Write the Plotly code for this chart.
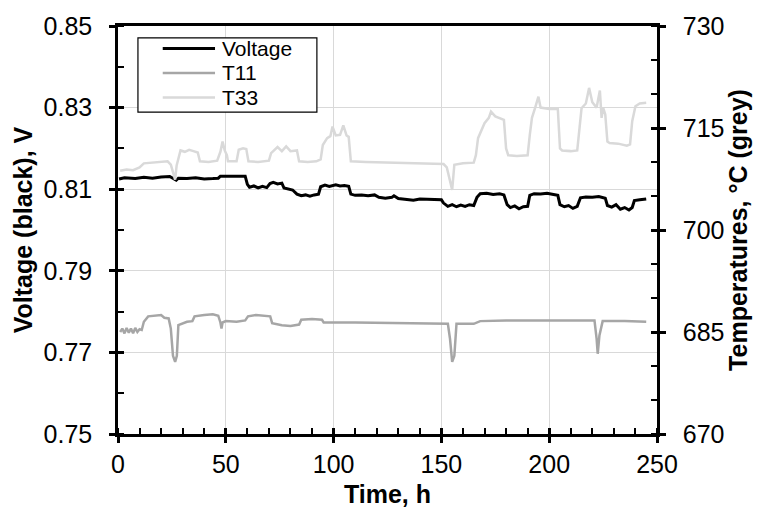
import plotly.graph_objects as go

# ---------------- data ----------------
volt_t = [0.5, 3, 8, 12, 16, 20, 24, 26, 27, 28, 32, 36, 40, 44, 46.5, 47.5, 52, 56, 59,
          60, 61, 63, 65, 67, 69, 70.5, 72, 74, 76, 77, 79, 81, 83, 85, 87, 89, 91, 93,
          94, 96, 98, 101, 103, 105, 107, 108, 110, 113, 116, 119, 121, 124, 127, 128,
          130, 134, 137, 140, 145, 150, 151, 153, 155, 157, 159, 161, 163, 165, 166.5,
          168, 171, 174, 177, 179, 180.5, 182, 184, 186, 188, 190, 191, 193, 196, 199,
          202, 204, 205, 207, 209, 211, 213, 214.5, 217, 220, 223, 226, 227, 229, 231,
          233, 235, 237, 238.5, 239.5, 242, 245]
volt_v = [0.8125, 0.8128, 0.8126, 0.8129, 0.8127, 0.8130, 0.8131, 0.8124, 0.8122, 0.8127,
          0.8126, 0.8128, 0.8125, 0.8126, 0.8127, 0.8132, 0.8132, 0.8132, 0.8132,
          0.8112, 0.8105, 0.8108, 0.8103, 0.8107, 0.8104, 0.8114, 0.8117, 0.8113, 0.8115,
          0.8103, 0.8100, 0.8098, 0.8088, 0.8084, 0.8086, 0.8083, 0.8086, 0.8088,
          0.8106, 0.8110, 0.8107, 0.8111, 0.8108, 0.8109, 0.8107, 0.8088, 0.8085, 0.8086,
          0.8084, 0.8086, 0.8080, 0.8078, 0.8080, 0.8084, 0.8077, 0.8075, 0.8073, 0.8076,
          0.8075, 0.8074, 0.8066, 0.8058, 0.8062, 0.8057, 0.8061, 0.8058, 0.8062, 0.8060,
          0.8080, 0.8089, 0.8090, 0.8087, 0.8089, 0.8086, 0.8062, 0.8055, 0.8059, 0.8052,
          0.8057, 0.8058, 0.8085, 0.8089, 0.8088, 0.8090, 0.8087, 0.8085, 0.8062, 0.8057,
          0.8060, 0.8053, 0.8058, 0.8079, 0.8081, 0.8080, 0.8082, 0.8078, 0.8060, 0.8056,
          0.8062, 0.8051, 0.8055, 0.8049, 0.8055, 0.8072, 0.8074, 0.8076]

t11_t = [1, 2, 3, 4, 5, 6, 7, 8, 9, 10, 11, 12, 14, 17, 20, 21.5, 23.5, 24.5, 25.5, 26.5,
         27.3, 28, 30, 32, 34.5, 35.5, 40, 44, 46.5, 47.5, 48, 48.5, 50, 55, 59, 60.3, 64,
         68, 70.6, 71.5, 76, 80, 84, 85, 90, 94.6, 95.4, 110, 130, 150, 153, 154, 155, 156,
         157, 165, 168, 180, 200, 221, 222, 222.5, 223.3, 224.8, 235, 245]
t11_v = [685.0, 685.5, 684.8, 685.6, 684.9, 685.5, 684.8, 685.6, 685.0, 685.4, 685.3, 686.5,
         687.3, 687.4, 687.5, 687.1, 687.0, 685.5, 681.5, 680.6, 681.5, 686.0, 686.3, 686.5,
         686.6, 687.3, 687.5, 687.6, 687.4, 686.4, 685.5, 686.4, 686.6, 686.5, 686.7, 687.3,
         687.5, 687.4, 687.3, 686.3, 686.0, 685.9, 686.1, 686.8, 686.9, 686.8, 686.4, 686.4,
         686.3, 686.2, 686.2, 684.0, 680.6, 681.5, 686.2, 686.2, 686.6, 686.7, 686.7, 686.7,
         684.0, 681.8, 684.5, 686.6, 686.6, 686.5]

t33_t = [1, 4, 7, 10, 12, 16, 20, 23, 24.5, 25.5, 26.5, 27.2, 28, 29, 31, 33, 35, 37, 38,
         42, 46, 47.5, 48.5, 49.5, 50.5, 51, 55, 56, 58, 59.5, 60.5, 65, 70, 71, 72, 74, 76,
         78, 80, 83, 84, 88, 92, 94, 95, 97, 98.5, 99.5, 101, 103, 104.5, 106, 107, 108,
         115, 125, 135, 145, 151, 152.5, 154, 155, 156, 160, 165, 166, 167, 168.5, 170, 172,
         173, 175, 177, 179, 180, 181, 185, 190, 191, 192, 193.5, 195, 196, 200, 204, 205,
         206, 210, 213, 214, 215, 217, 218.5, 220, 222, 223.5, 224.3, 225, 226, 227, 228,
         232, 236, 237.5, 238.5, 240, 242, 245]
t33_v = [708.7, 708.9, 708.8, 709.2, 709.8, 709.9, 710.0, 710.1, 709.6, 708.5, 707.4, 709.5,
         710.5, 711.7, 711.5, 711.8, 711.6, 711.4, 710.1, 710.0, 710.2, 711.5, 713.0, 711.7,
         711.0, 710.1, 710.1, 711.8, 712.0, 711.9, 710.1, 710.0, 710.2, 711.3, 711.6, 712.2,
         711.6, 712.3, 711.6, 711.7, 710.1, 710.0, 710.1, 710.4, 712.5, 713.5, 713.8, 715.2,
         713.9, 714.0, 715.4, 713.9, 713.7, 710.1, 710.0, 709.9, 709.8, 709.7, 709.7, 709.2,
         707.0, 705.9, 709.6, 709.8, 709.9, 711.0, 713.5, 714.5, 715.7, 716.5, 717.4, 716.7,
         716.4, 716.2, 712.0, 711.0, 710.9, 711.0, 714.0, 716.5, 718.0, 719.6, 718.0, 717.8,
         717.8, 712.0, 711.7, 711.6, 711.7, 714.5, 717.9, 718.6, 720.9, 718.8, 718.0, 720.5,
         716.5, 718.0, 717.0, 713.0, 712.8, 712.7, 712.4, 712.6, 716.0, 718.2, 718.6, 718.7]

series_names = ["Voltage", "T11", "T33"]
series_colors = ["black", "#a6a6a6", "#d9d9d9"]
series_widths = [3, 2.5, 2.5]

x_range = [0, 250]
v_range = [0.75, 0.85]
temp_range = [670, 730]

FONT = "Liberation Sans, Arial, sans-serif"

fig = go.Figure()
series = [(volt_t, volt_v, "y"), (t11_t, t11_v, "y2"), (t33_t, t33_v, "y2")]
for (xs, ys, ax), nm, col, w in zip(series, series_names, series_colors, series_widths):
    fig.add_trace(go.Scatter(x=xs, y=ys, name=nm, mode="lines",
                             line=dict(color=col, width=w), yaxis=ax, showlegend=False))

axis_common = dict(showline=True, linecolor="black", linewidth=2.5,
                   tickfont=dict(family=FONT, size=25, color="black"),
                   ticks="outside", ticklen=6, tickwidth=2.5, tickcolor="black",
                   zeroline=False)
inner_ticks = dict(ticks="inside", ticklen=6, tickwidth=2.5, tickcolor="black",
                   showticklabels=False, showgrid=False, showline=False, zeroline=False)

fig.update_layout(
    width=760, height=516,
    margin=dict(l=118, r=103, t=20, b=79),
    paper_bgcolor="white", plot_bgcolor="white",
    font=dict(family=FONT, color="black"),
    showlegend=False,
    xaxis=dict(range=x_range, tick0=0, dtick=50, showgrid=True, gridcolor="#d9d9d9",
               gridwidth=1, mirror=True,
               minor=dict(dtick=10, ticks="inside", ticklen=6, tickwidth=2, tickcolor="black",
                          showgrid=False),
               title=dict(text="<b>Time, h</b>", font=dict(family=FONT, size=25), standoff=9),
               **axis_common),
    xaxis2=dict(range=x_range, tick0=0, dtick=50, overlaying="x", anchor="y", side="bottom",
                **inner_ticks),
    yaxis=dict(range=v_range, tick0=0.75, dtick=0.02, tickformat=".2f", showgrid=True,
               gridcolor="#d9d9d9", gridwidth=1, ticklabelstandoff=12,
               minor=dict(tick0=0.75, dtick=0.01, ticks="inside", ticklen=6, tickwidth=2,
                          tickcolor="black", showgrid=False),
               title=dict(text="<b>Voltage (black), V</b>", font=dict(family=FONT, size=25),
                          standoff=4),
               **axis_common),
    yaxis3=dict(range=v_range, tick0=0.75, dtick=0.02, overlaying="y", anchor="x",
                side="left", **inner_ticks),
    yaxis2=dict(range=temp_range, tick0=670, dtick=15, overlaying="y", side="right",
                showgrid=False, ticklabelstandoff=12, anchor="x",
                minor=dict(tick0=670, dtick=5, ticks="inside", ticklen=6, tickwidth=2,
                           tickcolor="black"),
                title=dict(text="<b>Temperatures, °C (grey)</b>",
                           font=dict(family=FONT, size=25), standoff=6),
                **axis_common),
    yaxis4=dict(range=temp_range, tick0=670, dtick=15, overlaying="y", anchor="x",
                side="right", **inner_ticks),
)

# hidden traces so the overlay tick axes are drawn
fig.add_trace(go.Scatter(x=[None], y=[None], xaxis="x2", yaxis="y3", showlegend=False,
                         hoverinfo="skip"))
fig.add_trace(go.Scatter(x=[None], y=[None], xaxis="x", yaxis="y4", showlegend=False,
                         hoverinfo="skip"))

# legend (drawn as a boxed key in paper coordinates)
shapes = [dict(type="rect", xref="paper", yref="paper", x0=0.037, x1=0.369, y0=0.789,
               y1=0.971, line=dict(color="black", width=1.2), fillcolor="white",
               layer="above")]
annotations = []
row_y = [0.945, 0.885, 0.825]
for nm, col, w, yy in zip(series_names, series_colors, series_widths, row_y):
    shapes.append(dict(type="line", xref="paper", yref="paper", x0=0.083, x1=0.180,
                       y0=yy, y1=yy, line=dict(color=col, width=w), layer="above"))
    annotations.append(dict(text=nm, xref="paper", yref="paper", x=0.189, y=yy,
                            xanchor="left", yanchor="middle", showarrow=False,
                            font=dict(family=FONT, size=21, color="black")))
fig.update_layout(shapes=shapes, annotations=annotations)

fig.write_html("out.html")
